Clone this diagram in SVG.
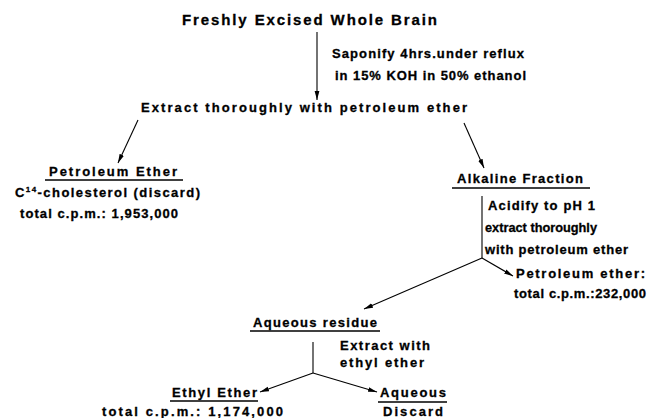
<svg xmlns="http://www.w3.org/2000/svg" width="648" height="418" viewBox="0 0 648 418">
<defs>
<style>
text{font-family:"Liberation Sans",Arial,sans-serif;font-weight:bold;font-size:13px;fill:#000;stroke:#000;stroke-width:0.3}
.t{font-size:15px}
.ln{stroke:#000;stroke-width:1.1;fill:none}
.ul{stroke:#000;stroke-width:1.6;fill:none}
</style>
<marker id="ah" markerUnits="userSpaceOnUse" markerWidth="10" markerHeight="6" refX="9" refY="3" orient="auto">
<path d="M0,0.6 L9,3 L0,5.4 z" fill="#000"/>
</marker>
</defs>
<rect width="648" height="418" fill="#fff"/>
<g id="connectors">
<line class="ln" x1="317" y1="32" x2="317" y2="100" marker-end="url(#ah)"/>
<line class="ln" x1="138" y1="120" x2="118" y2="163" marker-end="url(#ah)"/>
<line class="ln" x1="464" y1="123" x2="484" y2="168" marker-end="url(#ah)"/>
<line class="ln" x1="482" y1="196" x2="482" y2="258"/>
<line class="ln" x1="482" y1="258" x2="513" y2="276" marker-end="url(#ah)"/>
<line class="ln" x1="482" y1="258" x2="364" y2="309" marker-end="url(#ah)"/>
<line class="ln" x1="313" y1="342" x2="313" y2="373"/>
<line class="ln" x1="313" y1="373" x2="260" y2="392" marker-end="url(#ah)"/>
<line class="ln" x1="313" y1="373" x2="377" y2="392" marker-end="url(#ah)"/>
</g>
<g id="brain">
<text class="t" x="182" y="25" textLength="255" lengthAdjust="spacing">Freshly Excised Whole Brain</text>
</g>
<g id="saponify">
<text x="332" y="58" textLength="192" lengthAdjust="spacing">Saponify 4hrs.under reflux</text>
<text x="335" y="80" textLength="191" lengthAdjust="spacing">in 15% KOH in 50% ethanol</text>
</g>
<g id="extract1">
<text x="141" y="112" textLength="326" lengthAdjust="spacing">Extract thoroughly with petroleum ether</text>
</g>
<g id="petroleum-ether-1">
<text x="49" y="176" textLength="128" lengthAdjust="spacing">Petroleum Ether</text>
<line class="ul" x1="45" y1="180" x2="183" y2="180"/>
<text x="15" y="197" textLength="185" lengthAdjust="spacing">C<tspan font-size="8" dy="-5">14</tspan><tspan dy="5">-cholesterol (discard)</tspan></text>
<text x="20" y="218" textLength="158" lengthAdjust="spacing">total c.p.m.: 1,953,000</text>
</g>
<g id="alkaline">
<text x="457" y="183" textLength="126" lengthAdjust="spacing">Alkaline Fraction</text>
<line class="ul" x1="452" y1="188" x2="590" y2="188"/>
<text x="488" y="210" textLength="107" lengthAdjust="spacing">Acidify to pH 1</text>
<text x="485" y="232" textLength="112" lengthAdjust="spacingAndGlyphs">extract thoroughly</text>
<text x="485" y="254" textLength="143" lengthAdjust="spacing">with petroleum ether</text>
</g>
<g id="petroleum-ether-2">
<text x="516" y="278" textLength="129" lengthAdjust="spacing">Petroleum ether:</text>
<text x="514" y="298" textLength="132" lengthAdjust="spacing">total c.p.m.:232,000</text>
</g>
<g id="aqueous-residue">
<text x="253" y="327" textLength="124" lengthAdjust="spacing">Aqueous residue</text>
<line class="ul" x1="250" y1="331" x2="380" y2="331"/>
<text x="340" y="350" textLength="90" lengthAdjust="spacing">Extract with</text>
<text x="340" y="367" textLength="84" lengthAdjust="spacing">ethyl ether</text>
</g>
<g id="ethyl-ether">
<text x="172" y="397" textLength="85" lengthAdjust="spacing">Ethyl Ether</text>
<line class="ul" x1="170" y1="401" x2="258" y2="401"/>
<text x="102" y="416" textLength="181" lengthAdjust="spacing">total c.p.m.: 1,174,000</text>
</g>
<g id="aqueous">
<text x="380" y="397" textLength="66" lengthAdjust="spacing">Aqueous</text>
<line class="ul" x1="378" y1="402" x2="447" y2="402"/>
<text x="383" y="416" textLength="60" lengthAdjust="spacing">Discard</text>
</g>
</svg>
